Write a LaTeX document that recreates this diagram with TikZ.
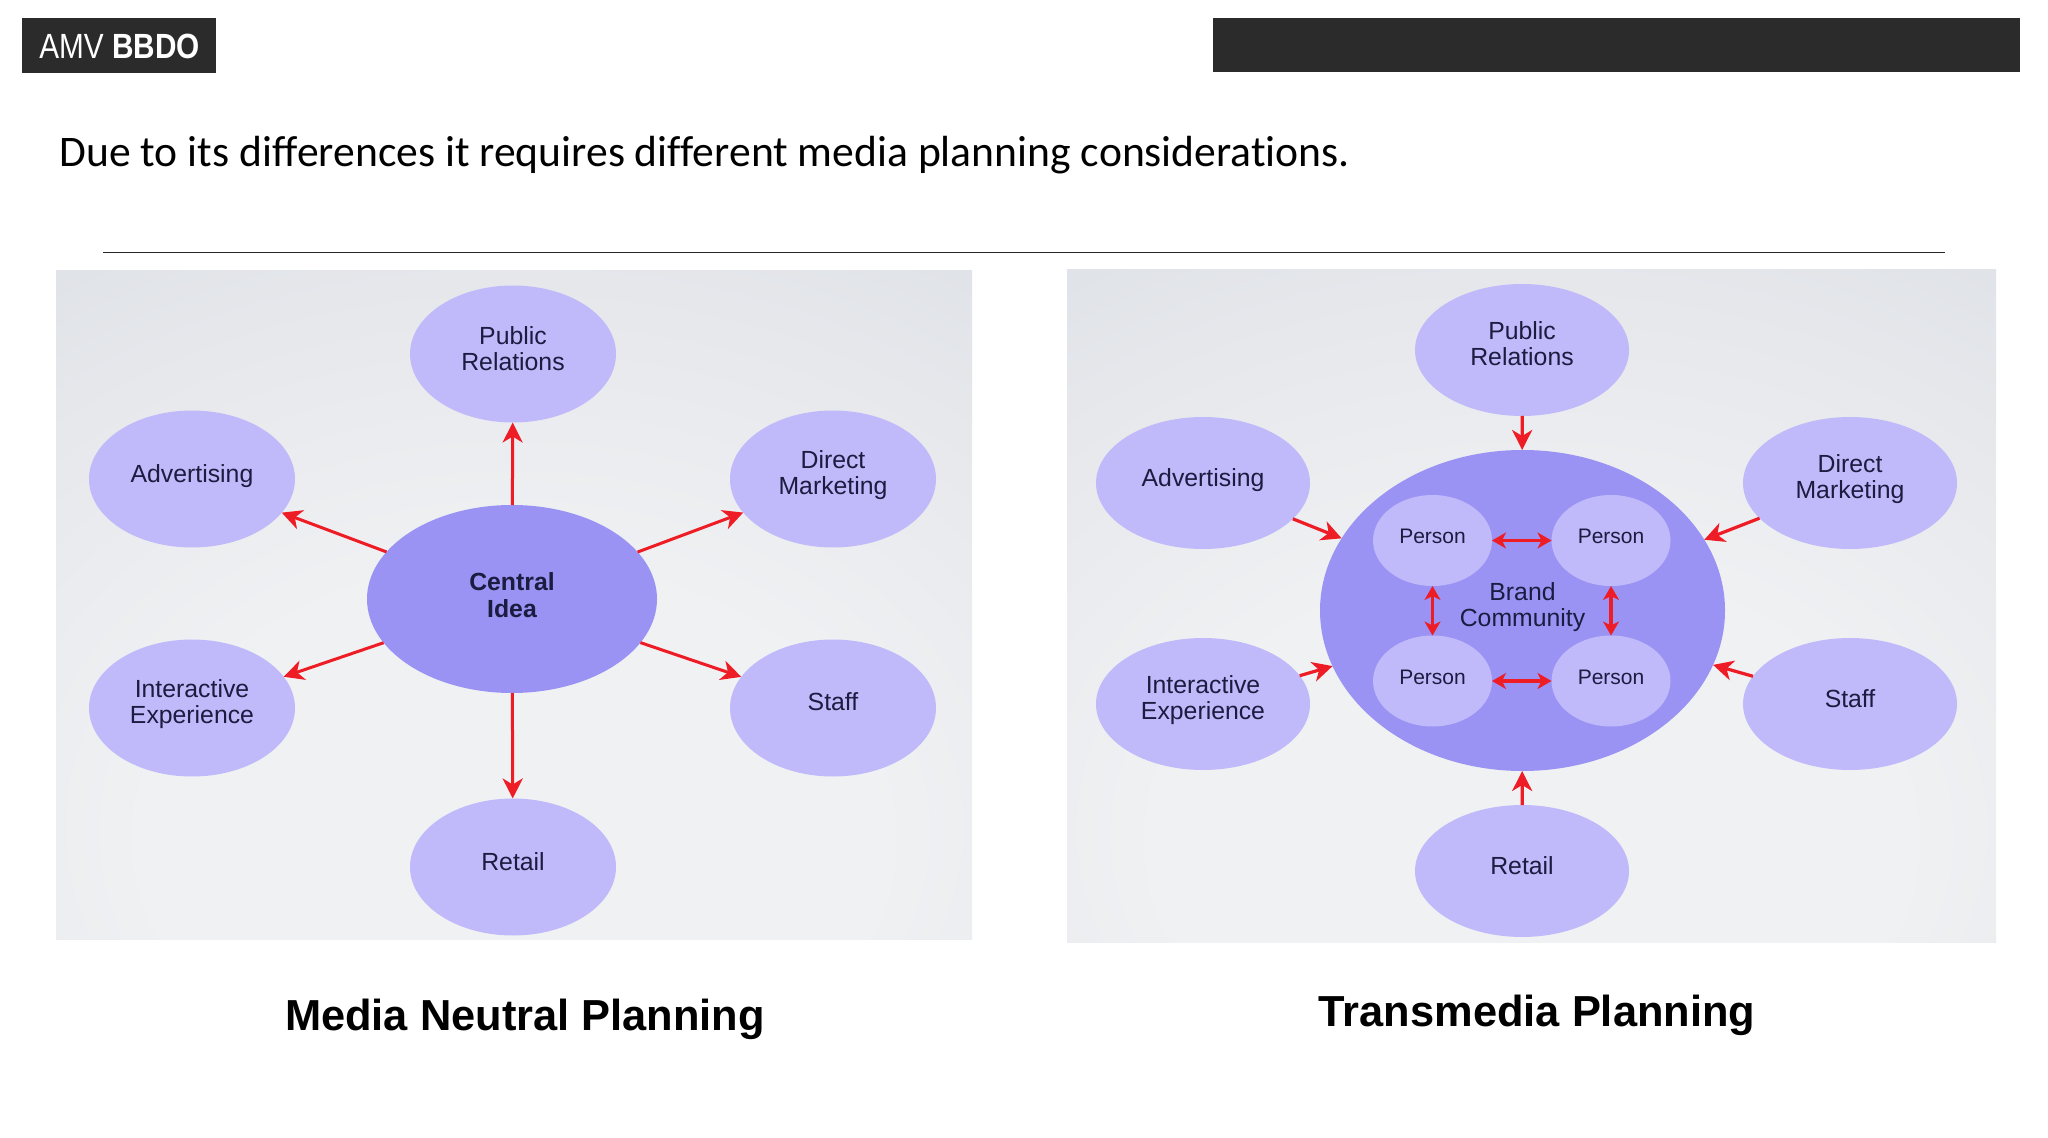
\documentclass[tikz,border=0pt]{standalone}
\usepackage{fontspec}
\setmainfont{Liberation Sans}
\newfontfamily\headfont[Ligatures=NoCommon]{Carlito}
\usetikzlibrary{arrows.meta,shapes.geometric}
\definecolor{outerfill}{HTML}{C0BAFA}
\definecolor{corefill}{HTML}{9A93F4}
\definecolor{inktext}{HTML}{1C1B40}
\definecolor{arrowred}{HTML}{EE1C25}
\definecolor{barfill}{HTML}{2B2B2B}
\definecolor{bgA}{HTML}{F0F1F3}
\definecolor{bgB}{HTML}{E5E7EB}
\definecolor{bgC}{HTML}{CFD5DB}
\pgfdeclareradialshading{panelshade}{\pgfpoint{0bp}{-22bp}}{
  color(0bp)=(bgA); color(20bp)=(bgA); color(38bp)=(bgB); color(66bp)=(bgC); color(100bp)=(bgC)}
\tikzset{
  x=0.5pt,y=-0.5pt,
  lab/.style={font=\fontsize{12.4pt}{13pt}\selectfont,text=inktext,align=center,inner sep=0pt,yshift=2.8pt},
  blob/.style={ellipse,fill=#1,draw=none,inner sep=0pt,outer sep=0pt},
  sat/.style={blob=outerfill,minimum width=206pt*0.5,minimum height=137pt*0.5},
  satr/.style={blob=outerfill,minimum width=214pt*0.5,minimum height=132pt*0.5},
  person/.style={blob=outerfill,minimum width=119pt*0.5,minimum height=91pt*0.5},
  bigarrow/.style={-{Stealth[length=10pt,width=10pt,inset=3pt]},arrowred,line width=1.5pt},
  smallarrow/.style={-{Stealth[length=10pt,width=10pt,inset=3pt]},arrowred,line width=1.6pt},
  twoway/.style={{Stealth[length=7pt,width=8pt,inset=2pt]}-{Stealth[length=7pt,width=8pt,inset=2pt]},arrowred,line width=1.6pt},
  panel/.style={shading=panelshade,draw=none},
  title/.style={font=\fontsize{21.7pt}{24pt}\selectfont\bfseries,anchor=base,inner sep=0pt,text=black},
}
\begin{document}
\begin{tikzpicture}
\useasboundingbox (0,0) rectangle (2048,1138);
\fill[white] (0,0) rectangle (2048,1138);
% header
\node[fill=barfill,minimum width=97pt,minimum height=27.2pt,inner sep=0pt,anchor=north west] (logo) at (22,18) {};
\node[anchor=center,inner sep=0pt,text=white,font=\fontsize{17.5pt}{17.5pt}\selectfont,xscale=0.85] (logotext) at (119.5,46) {AMV \textbf{BBDO}};
\node[fill=barfill,minimum width=403.5pt,minimum height=27pt,inner sep=0pt,anchor=north west] (bar) at (1213,18) {};
\node[anchor=base west,inner sep=0pt,text=black,font=\headfont\fontsize{21.8pt}{24pt}\selectfont] (head) at (59,167) {Due to its differences it requires different media planning considerations.};
\coordinate (ruleL) at (103,252.5);
\coordinate (ruleR) at (1945,252.5);
\draw[line width=0.7pt,draw=black!85] (ruleL) -- (ruleR);
% panels
\shade[panel] (56,271) rectangle (972,939);
\shade[panel] (1067,270) rectangle (1996,942);
% left diagram
\node[blob=corefill,minimum width=145pt,minimum height=94pt,label={[lab,font=\fontsize{12.4pt}{13.5pt}\selectfont\bfseries,yshift=-1pt]center:Central\\Idea}] (lc) at (512,599) {};
\node[sat,label={[lab]center:Public\\Relations}] (lpr) at (513,354) {};
\node[sat,label={[lab,yshift=-1.2pt]center:Advertising}] (lad) at (192,479) {};
\node[sat,label={[lab,yshift=-1pt]center:Direct\\Marketing}] (ldm) at (833,479) {};
\node[sat,label={[lab,yshift=-0.8pt]center:Interactive\\Experience}] (lie) at (192,708) {};
\node[sat,label={[lab,yshift=0.3pt]center:Staff}] (lst) at (833,708) {};
\node[sat,label={[lab]center:Retail}] (lre) at (513,867) {};
\foreach \t in {lpr,lad,ldm,lie,lst,lre}{\draw[bigarrow] (lc) -- (\t);}
% right diagram
\node[blob=corefill,minimum width=202.5pt,minimum height=160.5pt,label={[lab,yshift=-1.2pt]center:Brand\\Community}] (rc) at (1522.5,610.5) {};
\node[satr,label={[lab,yshift=0.5pt]center:Public\\Relations}] (rpr) at (1522,350) {};
\node[satr,label={[lab,yshift=-1.2pt]center:Advertising}] (rad) at (1203,483) {};
\node[satr,label={[lab,yshift=-0.6pt]center:Direct\\Marketing}] (rdm) at (1850,483) {};
\node[satr,label={[lab,yshift=-0.6pt]center:Interactive\\Experience}] (rie) at (1203,704) {};
\node[satr,label={[lab]center:Staff}] (rst) at (1850,704) {};
\node[satr,label={[lab]center:Retail}] (rre) at (1522,871) {};
\foreach \t in {rpr,rad,rdm,rie,rst,rre}{\draw[smallarrow] (\t) -- (rc);}
\tikzset{plab/.style={lab,font=\fontsize{10.5pt}{12pt}\selectfont,yshift=-0.6pt}}
\node[person,label={[plab]center:Person}] (p1) at (1432.5,540.5) {};
\node[person,label={[plab]center:Person}] (p2) at (1611,540.5) {};
\node[person,label={[plab,yshift=-0.4pt]center:Person}] (p3) at (1432.5,681) {};
\node[person,label={[plab,yshift=-0.4pt]center:Person}] (p4) at (1611,681) {};
\draw[twoway] (p1) -- (p2);
\draw[twoway] (p3) -- (p4);
\draw[twoway] (p1) -- (p3);
\draw[twoway] (p2) -- (p4);
% titles
\node[title] (t1) at (525,1030.5) {Media Neutral Planning};
\node[title] (t2) at (1537,1026.5) {Transmedia Planning};
\end{tikzpicture}
\end{document}
